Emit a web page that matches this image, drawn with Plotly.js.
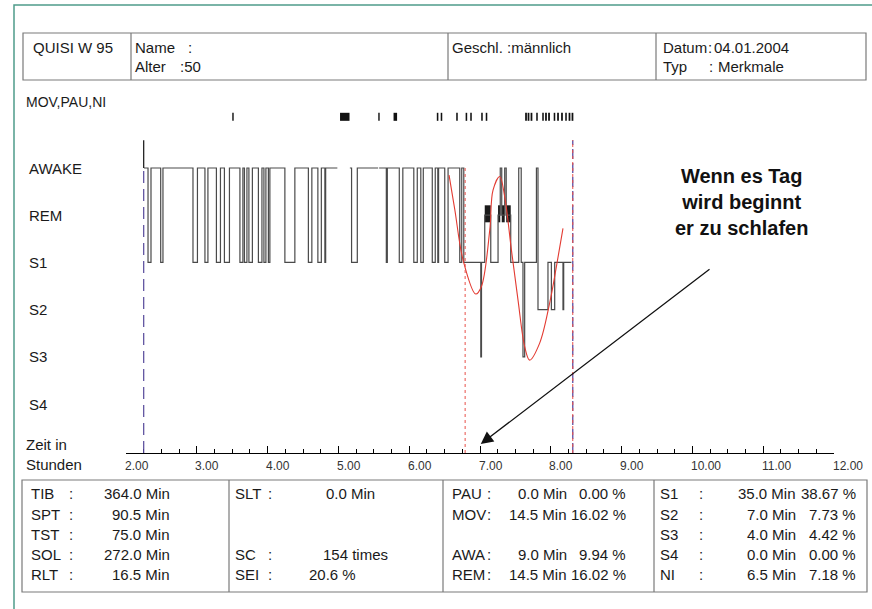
<!DOCTYPE html>
<html><head><meta charset="utf-8">
<script src="https://cdn.plot.ly/plotly-3.0.1.min.js"></script>
<style>html,body{margin:0;padding:0;background:#fff}</style>
</head><body><div id="chart" style="width:872px;height:609px"></div>
<script>
// ---------------- data ----------------
const stageCodes = ['S4','S3','S2','S1','REM','W'];
const stageNames = ['S4','S3','S2','S1','REM','AWAKE'];

// hypnogram transitions (hours) and stage entered at that time (null = no data)
const hypnoTime = [2.254,2.311,2.353,2.490,2.522,2.946,3.009,3.115,3.157,3.277,3.334,3.390,3.461,
  3.609,3.651,3.673,3.708,3.736,3.785,3.870,3.920,3.948,3.976,4.011,4.032,4.244,4.385,4.576,4.625,
  4.710,4.759,4.809,4.820,4.985,5.162,5.186,5.267,5.561,5.575,5.677,5.691,5.860,5.910,6.065,6.114,
  6.164,6.199,6.326,6.368,6.404,6.415,6.502,6.549,6.714,6.742,6.771,7.011,7.021,7.067,7.152,7.255,
  7.286,7.307,7.349,7.370,7.434,7.547,7.582,7.607,7.631,7.797,7.819,7.960,8.008,8.055,8.172,8.182,8.291];
const hypnoStage = ['W','S1','W','S1','W','S1','W','S1','W','S1','W','S1','W',
  'S1','W','S1','W','S1','W','S1','W','S1','W','S1','W','S1','W','S1','W',
  'S1','W','S1','W',null,'W','S1','W',null,'W','S1','W','S1','W','S1','W',
  'S1','W','S1','W','S1','W','S1','W','S1','W','S1','S3','S1','REM','S1','REM',
  'W','REM','W','REM','S1','W','S1','S3','S1','W','S2','S1','S2','S1','S2','S1','S1'];

// smooth red fit curve
const fitTime  = [6.563,6.644,6.761,6.940,7.020,7.138,7.184,7.279,7.349,7.444,7.537,7.632,7.702,7.843,7.984,8.079,8.172];
const fitLevel = [4.85,4.12,3.05,2.33,2.49,3.69,4.53,4.82,4.39,3.26,2.20,1.21,0.93,1.29,2.14,2.91,3.72];

// MOV,PAU,NI event marks
const movTime  = [3.511,5.090,5.573,5.804,6.401,6.456,6.675,6.808,6.873,7.028,7.092,
  7.650,7.685,7.727,7.805,7.890,7.932,7.975,8.052,8.102,8.158,8.215,8.264,8.306];
const movWidth = [0.02,0.134,0.02,0.05,0.022,0.022,0.022,0.022,0.022,0.022,0.022,
  0.025,0.025,0.025,0.022,0.022,0.025,0.025,0.022,0.025,0.025,0.022,0.025,0.025];

const tickVals   = [2,3,4,5,6,7,8,9,10,11,12];
const tickLabels = ['2.00','3.00','4.00','5.00','6.00','7.00','8.00','9.00','10.00','11.00','12.00'];

const lightsOff = 2.25, sleepOnset = 6.79, lightsOn = 8.31;

const headerInfo = {program:'QUISI W 95', name:'', age:'50', sex:'männlich', date:'04.01.2004', type:'Merkmale'};

const col1Labels = ['TIB','SPT','TST','SOL','RLT'];
const col1Values = ['364.0 Min','90.5 Min','75.0 Min','272.0 Min','16.5 Min'];
const col2Labels = ['SLT','','','SC','SEI'];
const col2Values = ['0.0 Min','','','154 times','20.6 %'];
const col3Labels = ['PAU','MOV','','AWA','REM'];
const col3Mins   = ['0.0 Min','14.5 Min','','9.0 Min','14.5 Min'];
const col3Pcts   = ['0.00 %','16.02 %','','9.94 %','16.02 %'];
const col4Labels = ['S1','S2','S3','S4','NI'];
const col4Mins   = ['35.0 Min','7.0 Min','4.0 Min','0.0 Min','6.5 Min'];
const col4Pcts   = ['38.67 %','7.73 %','4.42 %','0.00 %','7.18 %'];

// ---------------- build ----------------
const F = 'Liberation Sans, Arial, sans-serif';
const L = 126, R = 834, T = 90, B = 453;
const px = x => (x - L) / (R - L);
const py = y => (B - y) / (B - T);
const YMIN = -1.038, YMAX = 6.653;

const lx = [], ly = [];
for (let i = 0; i < hypnoTime.length; i++) {
  const s = hypnoStage[i];
  if (s === null) { lx.push(hypnoTime[i]); ly.push(ly[ly.length-1]); lx.push(hypnoTime[i]); ly.push(null); }
  else { lx.push(hypnoTime[i]); ly.push(stageCodes.indexOf(s)); }
}
const remX = [], remW = [];
for (let i = 0; i < hypnoTime.length - 1; i++) {
  if (hypnoStage[i] === 'REM') {
    remX.push((hypnoTime[i] + hypnoTime[i+1]) / 2);
    remW.push(hypnoTime[i+1] - hypnoTime[i]);
  }
}
const remLevel = stageCodes.indexOf('REM');

const traces = [
  {type:'scatter', mode:'lines', x:lx, y:ly, line:{shape:'hv', color:'#4a4a4a', width:1.2}, connectgaps:false, hoverinfo:'skip'},
  {type:'bar', x:remX, width:remW, base:remX.map(()=>remLevel-0.15), y:remX.map(()=>0.36), marker:{color:'#1a1a1a', line:{width:0}}, hoverinfo:'skip'},
  {type:'scatter', mode:'lines', x:fitTime, y:fitLevel, line:{shape:'spline', smoothing:1, color:'#e33b32', width:1.1}, hoverinfo:'skip'},
  {type:'bar', x:movTime, width:movWidth, base:movTime.map(()=>6.0), y:movTime.map(()=>0.17), marker:{color:'#111', line:{width:0}}, hoverinfo:'skip'}
];

const boxLine = {color:'#7a7a7a', width:1.2};
const shapes = [
  {type:'rect', xref:'paper', yref:'paper', x0:px(14), x1:px(900), y0:py(5), y1:py(700), line:{color:'#4f9c8a', width:1.5}},
  {type:'rect', xref:'paper', yref:'paper', x0:px(23), x1:px(866), y0:py(33), y1:py(80), line:boxLine},
  {type:'rect', xref:'paper', yref:'paper', x0:px(22), x1:px(867), y0:py(480), y1:py(592), line:boxLine}
];
[131, 448, 656].forEach(x => shapes.push({type:'line', xref:'paper', yref:'paper', x0:px(x), x1:px(x), y0:py(33), y1:py(80), line:boxLine}));
[229, 443, 654].forEach(x => shapes.push({type:'line', xref:'paper', yref:'paper', x0:px(x), x1:px(x), y0:py(480), y1:py(592), line:boxLine}));
const topMark = 5.59;
shapes.push({type:'line', xref:'x', yref:'y', x0:lightsOff, x1:lightsOff, y0:5, y1:topMark, line:{color:'#111', width:1.2}});
shapes.push({type:'line', xref:'x', yref:'y', x0:lightsOff, x1:lightsOff, y0:YMIN, y1:5, line:{color:'#55489a', width:1.2, dash:'12px,6px'}});
shapes.push({type:'line', xref:'x', yref:'y', x0:sleepOnset, x1:sleepOnset, y0:YMIN, y1:5.05, line:{color:'#e8504a', width:1, dash:'3px,3px'}});
shapes.push({type:'line', xref:'x', yref:'y', x0:lightsOn, x1:lightsOn, y0:YMIN, y1:topMark, line:{color:'#6a5aa8', width:1.4, dash:'10px,4px'}});
shapes.push({type:'line', xref:'x', yref:'y', x0:lightsOn, x1:lightsOn, y0:YMIN, y1:topMark, line:{color:'#e8504a', width:1, dash:'3px,3px'}});

const ann = [];
function txt(x, y, text, anchor, size, extra) {
  ann.push(Object.assign({xref:'paper', yref:'paper', x:px(x), y:py(y), text:text, showarrow:false,
    xanchor:anchor||'left', yanchor:'middle', font:{family:F, size:size||15, color:'#1a1a1a'}}, extra||{}));
}
// header
txt(31, 47, headerInfo.program);
txt(133, 47, 'Name'); txt(186, 47, ':' + headerInfo.name);
txt(133, 67, 'Alter'); txt(178, 67, ':' + headerInfo.age);
txt(450, 47, 'Geschl. :' + headerInfo.sex);
txt(661, 47, 'Datum'); txt(706, 47, ':'); txt(712, 47, headerInfo.date);
txt(661, 67, 'Typ'); txt(707, 67, ':'); txt(716, 67, headerInfo.type);
// left labels
txt(24, 102, 'MOV,PAU,NI', 'left', 14);
stageNames.forEach((n, i) => ann.push({xref:'paper', yref:'y', x:px(27), y:i, text:n, showarrow:false,
  xanchor:'left', yanchor:'middle', font:{family:F, size:15, color:'#1a1a1a'}}));
txt(24, 444, 'Zeit in', 'left', 15);
txt(24, 465, 'Stunden', 'left', 15);
// tick labels
tickVals.forEach((v, i) => ann.push({xref:'x', yref:'paper', x:v, y:py(466), xshift:-3.5, text:tickLabels[i], showarrow:false,
  xanchor:'left', yanchor:'middle', font:{family:F, size:12, color:'#333'}}));
// note and arrow
ann.push({xref:'paper', yref:'paper', x:px(741), y:py(202), text:'<b>Wenn es Tag<br>wird beginnt<br>er zu schlafen</b>',
  showarrow:false, xanchor:'center', yanchor:'middle', align:'center', font:{family:F, size:20, color:'#111'}});
ann.push({xref:'x', yref:'y', axref:'x', ayref:'y', x:7.011, y:-0.847, ax:10.263, ay:2.88, text:'', showarrow:true,
  arrowhead:2, arrowsize:1.9, arrowwidth:1.3, arrowcolor:'#111', standoff:0, startstandoff:0});
// stats table
const rowsY = [494, 514, 534, 554, 574];
rowsY.forEach((y, r) => {
  if (col1Labels[r]) { txt(29, y, col1Labels[r]); txt(67, y, ':'); txt(172, y, col1Values[r], 'right'); }
  if (col2Labels[r]) { txt(233, y, col2Labels[r]); txt(266, y, ':'); }
  if (col3Labels[r]) { txt(450, y, col3Labels[r]); txt(485, y, ':'); txt(569, y, col3Mins[r], 'right'); txt(628, y, col3Pcts[r], 'right'); }
  if (col4Labels[r]) { txt(658, y, col4Labels[r]); txt(697, y, ':'); txt(798, y, col4Mins[r], 'right'); txt(858, y, col4Pcts[r], 'right'); }
});
txt(377, rowsY[0], col2Values[0], 'right');
txt(390, rowsY[3], col2Values[3], 'right');
txt(307, rowsY[4], col2Values[4], 'left');

const layout = {
  width:872, height:609,
  margin:{l:L, r:872-R, t:T, b:609-B, pad:0},
  paper_bgcolor:'#fff', plot_bgcolor:'#fff',
  showlegend:false, barmode:'overlay',
  xaxis:{range:[2,12], showline:true, linecolor:'#000', linewidth:1, ticks:'inside', ticklen:7, tickwidth:1, tickcolor:'#000',
    tick0:2, dtick:1, showticklabels:false, showgrid:false, zeroline:false, fixedrange:true,
    minor:{dtick:0.25, tick0:2, ticks:'inside', ticklen:4, tickcolor:'#000', tickwidth:1, showgrid:false}},
  yaxis:{range:[YMIN, YMAX], visible:false, showgrid:false, zeroline:false, fixedrange:true},
  shapes:shapes, annotations:ann
};
Plotly.newPlot('chart', traces, layout, {displayModeBar:false, staticPlot:true});
</script></body></html>
